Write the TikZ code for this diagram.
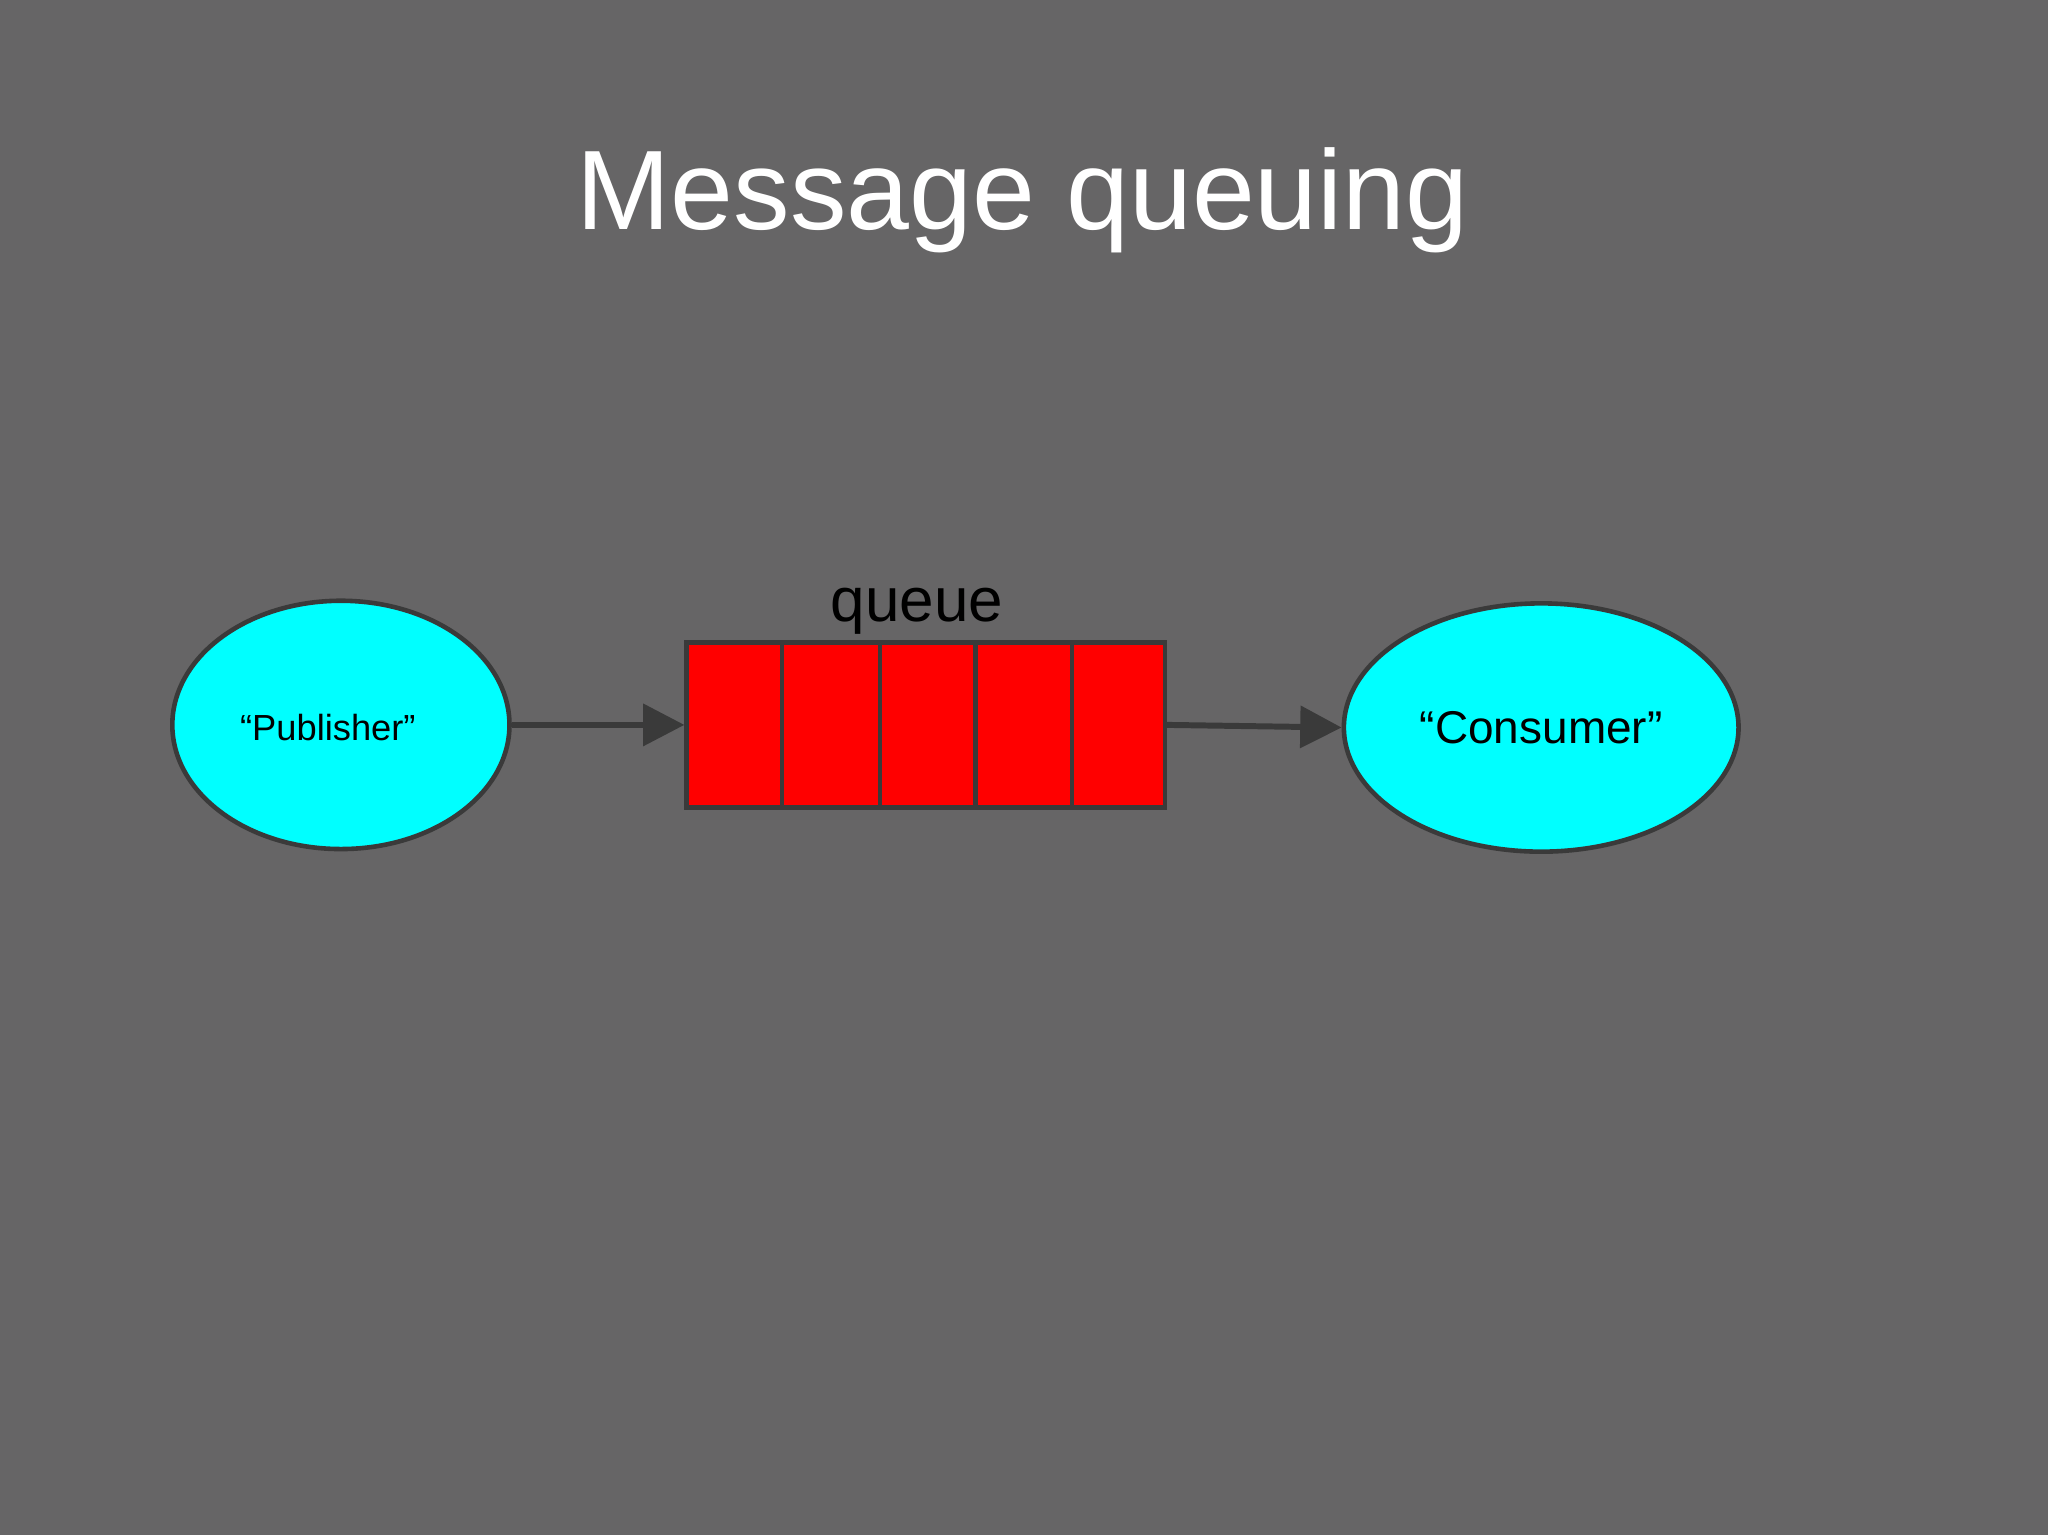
\documentclass[tikz,border=0pt]{standalone}
\usepackage{fontspec}
\setmainfont{Liberation Sans}
\usetikzlibrary{shapes.geometric,arrows.meta}
\definecolor{bg}{HTML}{666566}
\definecolor{edge}{HTML}{3A3A3A}
\definecolor{aqua}{HTML}{00FFFF}
\definecolor{qred}{HTML}{FF0000}
\begin{document}
\begin{tikzpicture}[x=0.01cm,y=-0.01cm,
  ell/.style={ellipse,draw=edge,line width=1pt,fill=aqua,inner sep=0pt},
  cell/.style={draw=edge,line width=1pt,fill=qred,minimum height=1.26cm,inner sep=0pt,anchor=west},
  conn/.style={draw=edge,line width=1.3pt,-{Triangle[length=9pt,width=9pt]}}]
\fill[bg] (0,0) rectangle (1568,1175);
\useasboundingbox (0,0) rectangle (1568,1175);
\node[text=white,font=\fontsize{24.6}{28}\selectfont] (title) at (783,153) {Message queuing};
\node[ell,minimum width=2.58cm,minimum height=1.9cm] (pub) at (261,555) {};
\node[font=\fontsize{7.9}{9}\selectfont] (publ) at (251,557) {“Publisher”};
\node[ell,minimum width=3.02cm,minimum height=1.9cm,font=\fontsize{10}{12}\selectfont] (con) at (1180,557) {“Consumer”};
\node[cell,minimum width=0.73cm] (c1) at (524,555) {};
\node[cell,minimum width=0.75cm] (c2) at (597,555) {};
\node[cell,minimum width=0.73cm] (c3) at (672,555) {};
\node[cell,minimum width=0.74cm] (c4) at (745,555) {};
\node[cell,minimum width=0.71cm] (c5) at (819,555) {};
\node[font=\fontsize{13.5}{16}\selectfont] (ql) at (702,468) {queue};
\draw[conn] (pub.east) -- (c1.west);
\draw[conn] (c5.east) -- (con.west);
\end{tikzpicture}
\end{document}
